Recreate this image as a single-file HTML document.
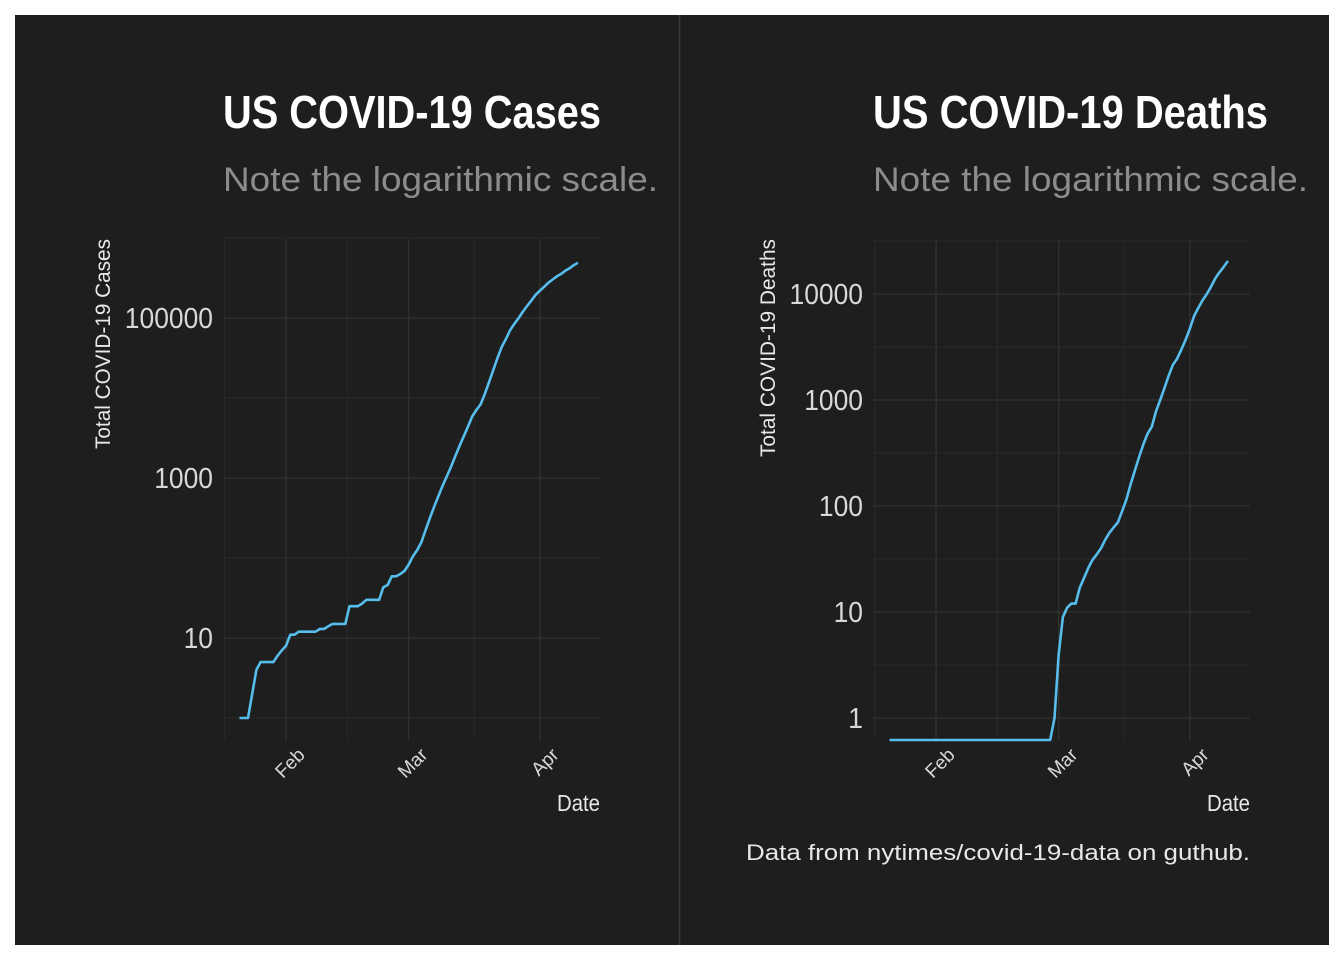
<!DOCTYPE html>
<html><head><meta charset="utf-8">
<style>
html,body{margin:0;padding:0;background:#fff;}
svg{display:block;}
text{font-family:"Liberation Sans Narrow","Liberation Sans",sans-serif;}
</style></head>
<body>
<svg id="chart" width="1344" height="960" viewBox="0 0 1344 960">
  <rect x="15" y="15" width="1314" height="930" fill="#1e1e1e"/>
  <line x1="679.5" y1="15" x2="679.5" y2="945" stroke="#3a3a3a" stroke-width="1.5"/>
  <g id="left"></g>
  <g id="right"></g>
  <text x="1250" y="860" text-anchor="end" font-size="22" fill="#e8e8e8" style="font-family:'Liberation Sans',sans-serif" textLength="504" lengthAdjust="spacingAndGlyphs">Data from nytimes/covid-19-data on guthub.</text>
</svg>
<script>
// day index 0 = Jan 21, 2020
const caseValues = [1,1,1,2,4,5,5,5,5,6,7,8,11,11,12,12,12,12,12,13,13,14,15,15,15,15,25,25,25,27,30,30,30,30,43,46,59,59,63,69,83,105,126,158,224,316,437,589,794,1047,1380,1862,2512,3311,4365,5888,7079,8318,11220,15849,22387,31623,43652,54954,70795,85114,100000,120226,141254,165959,194984,218776,245471,275423,301995,331131,354813,389045,416869,457088,489779];
const deathValues = [0,0,0,0,0,0,0,0,0,0,0,0,0,0,0,0,0,0,0,0,0,0,0,0,0,0,0,0,0,0,0,0,0,0,0,0,0,0,0,1,4,9,11,12,12,17,21,26,31,35,40,48,56,63,70,90,115,160,215,290,380,480,560,780,1000,1300,1700,2150,2450,3000,3700,4700,6200,7400,8700,10000,11700,14000,16000,18000,20500];
const monthLabels = ["Feb","Mar","Apr"];
const monthDays = [11,40,71];
const minorDays = [-3.5,25.5,55.5];
const caseTicks = ["10","1000","100000"];
const caseTickVals = [10,1000,100000];
const caseMinorVals = [1,100,10000,1000000];
const deathTicks = ["1","10","100","1000","10000"];
const deathTickVals = [1,10,100,1000,10000];
const deathMinorVals = [3.1623,31.623,316.23,3162.3,31623];

const NS="http://www.w3.org/2000/svg";
function mk(parent,tag,attrs){const e=document.createElementNS(NS,tag);for(const k in attrs)e.setAttribute(k,attrs[k]);parent.appendChild(e);return e;}

function drawPanel(g,off,cfg){
  const L=223+off,R=600+off,T=239,B=740;
  const x=d=>239.5+off+d*4.23;
  const y=v=>v<=0?B:cfg.base-cfg.dec*Math.log10(v);
  cfg.minor.forEach(v=>{const yy=y(v);if(yy>=T-1&&yy<=B){const l=mk(g,'line',{x1:L,x2:R,y1:yy,y2:yy,stroke:'#2a2a2a','stroke-width':1});
    
    }});
  minorDays.forEach(d=>{const xx=x(d);const l=mk(g,'line',{x1:xx,x2:xx,y1:T,y2:B,stroke:'#2a2a2a','stroke-width':1});
    
    });
  cfg.tickVals.forEach((v,i)=>{const yy=y(v);const l=mk(g,'line',{x1:L,x2:R,y1:yy,y2:yy,stroke:'#333','stroke-width':1.2});
    
    
    const t=mk(g,'text',{x:L-10,y:yy+10,'text-anchor':'end','font-size':29,fill:'#d8d8d8',textLength:(cfg.ticks[i].length*14.7).toFixed(1),lengthAdjust:'spacingAndGlyphs'});t.textContent=cfg.ticks[i];
    
    });
  monthDays.forEach((d,i)=>{const xx=x(d);const l=mk(g,'line',{x1:xx,x2:xx,y1:T,y2:B,stroke:'#333','stroke-width':1.2});
    
    
    const t=mk(g,'text',{x:xx+20,y:B+16,'text-anchor':'end','font-size':19,fill:'#d8d8d8',transform:`rotate(-45 ${xx+20} ${B+16})`});t.textContent=monthLabels[i];
    
    });
  let dstr='';cfg.values.forEach((v,i)=>{dstr+=(i?'L':'M')+x(i).toFixed(1)+','+y(v).toFixed(1);});
  const p=mk(g,'path',{d:dstr,fill:'none',stroke:'#56bdec','stroke-width':2.6,'stroke-linejoin':'round'});
  
  
  const tt=mk(g,'text',{x:L,y:128,'font-size':46,'font-weight':'bold',fill:'#ffffff',textLength:cfg.titleW,lengthAdjust:'spacingAndGlyphs'});tt.textContent=cfg.title;
  
  
  const st=mk(g,'text',{x:L,y:191,'font-size':34,fill:'#8c8c8c',textLength:435,lengthAdjust:'spacingAndGlyphs',style:"font-family:'Liberation Sans',sans-serif"});st.textContent='Note the logarithmic scale.';
  
  
  const yt=mk(g,'text',{x:cfg.ytx,y:cfg.ytc,'text-anchor':'middle','font-size':21,fill:'#e8e8e8',transform:`rotate(-90 ${cfg.ytx} ${cfg.ytc})`,textLength:cfg.ytw,lengthAdjust:'spacingAndGlyphs'});yt.textContent=cfg.ytitle;
  
  
  const xt=mk(g,'text',{x:R,y:811,'text-anchor':'end','font-size':23,fill:'#e8e8e8',textLength:43,lengthAdjust:'spacingAndGlyphs'});xt.textContent='Date';
  
  
}
drawPanel(document.getElementById('left'),0,{base:718,dec:80,values:caseValues,ticks:caseTicks,tickVals:caseTickVals,minor:caseMinorVals,title:'US COVID-19 Cases',titleW:378,ytitle:'Total COVID-19 Cases',ytx:110,ytc:344,ytw:210});
drawPanel(document.getElementById('right'),650,{base:718,dec:106,values:deathValues,ticks:deathTicks,tickVals:deathTickVals,minor:deathMinorVals,title:'US COVID-19 Deaths',titleW:395,ytitle:'Total COVID-19 Deaths',ytx:775,ytc:348,ytw:218});
</script>
</body></html>
